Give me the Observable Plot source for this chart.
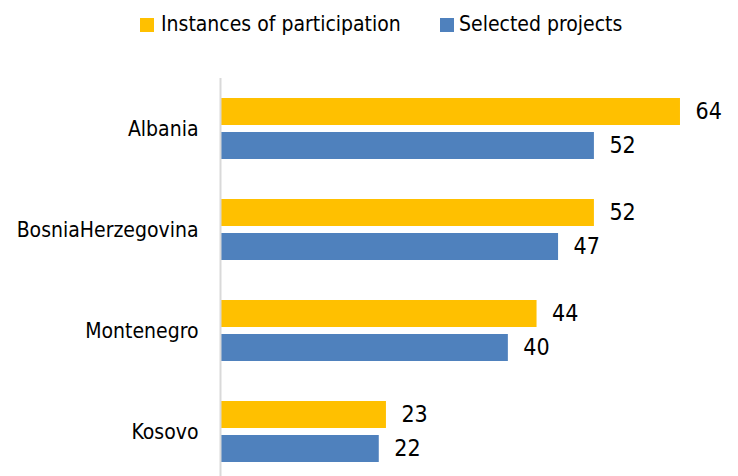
<!DOCTYPE html>
<html>
<head>
<meta charset="utf-8">
<script src="https://cdn.jsdelivr.net/npm/d3@7"></script>
<script src="https://cdn.jsdelivr.net/npm/@observablehq/plot@0.6"></script>
<style>
  html, body { margin: 0; padding: 0; background: #fff; }
  body { width: 738px; height: 476px; overflow: hidden; font-family: "DejaVu Sans Condensed", "Liberation Sans Narrow", sans-serif; }
  #legend { position: relative; height: 48px; }
  .sw { position: absolute; width: 14px; height: 14px; top: 18px; }
  .lt { position: absolute; top: 10px; font-size: 21px; color: #000; line-height: 28px; white-space: nowrap; }
  svg { display: block; }
</style>
</head>
<body>
<div id="legend">
  <div class="sw" style="left:140px;background:#FFC000"></div>
  <div class="lt" style="left:161px">Instances of participation</div>
  <div class="sw" style="left:440px;background:#4F81BD"></div>
  <div class="lt" style="left:459px">Selected projects</div>
</div>
<div id="chart"></div>
<script>
const countries = ["Albania", "BosniaHerzegovina", "Montenegro", "Kosovo"];
const series = ["Instances of participation", "Selected projects"];
const participation = [64, 52, 44, 23];
const selected = [52, 47, 40, 22];
const colors = ["#FFC000", "#4F81BD"];

const data = [];
countries.forEach((c, i) => {
  data.push({country: c, series: series[0], value: participation[i]});
  data.push({country: c, series: series[1], value: selected[i]});
});

const chart = Plot.plot({
  width: 738,
  height: 428,
  marginLeft: 221,
  marginRight: 15,
  marginTop: 28,
  marginBottom: -7,
  style: {fontFamily: '"DejaVu Sans Condensed", "Liberation Sans Narrow", sans-serif', background: "#fff", color: "#000"},
  x: {domain: [0, 70], axis: null},
  y: {domain: series, axis: null, paddingInner: 0.2, paddingOuter: 0.58},
  fy: {domain: countries, padding: 0, label: null},
  color: {domain: series, range: colors},
  marks: [
    Plot.barX(data, {x: "value", y: "series", fy: "country", fill: "series"}),
    Plot.ruleX([0], {stroke: "#d9d9d9", strokeWidth: 2, dx: -1}),
    Plot.text(data, {x: "value", y: "series", fy: "country", text: d => String(d.value), textAnchor: "start", dx: 15, fontSize: 23, fill: "#000"}),
    Plot.axisFy({anchor: "left", tickSize: 0, tickPadding: 23, fontSize: 21, label: null, fill: "#000"})
  ]
});
document.getElementById("chart").appendChild(chart);
</script>
</body>
</html>
